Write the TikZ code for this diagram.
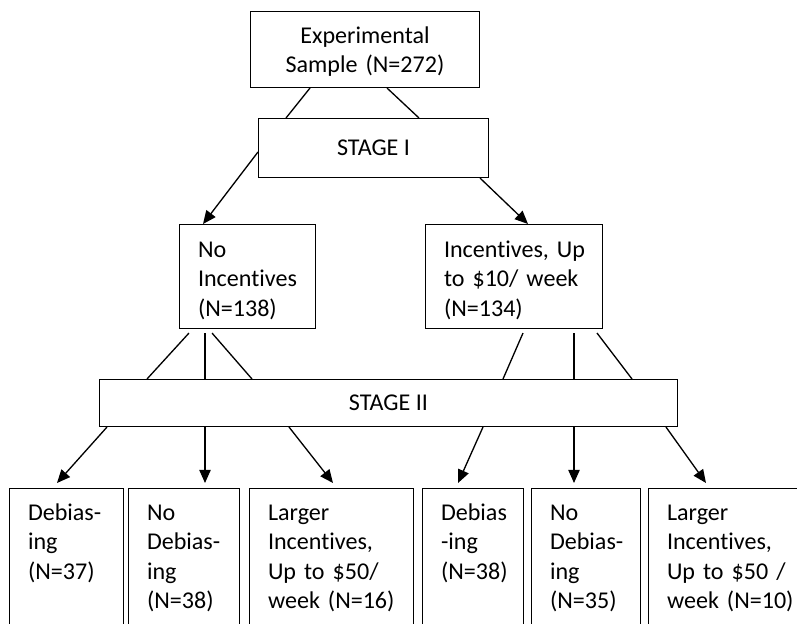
\documentclass[tikz,border=0pt]{standalone}
\usepackage{fontspec}
\setmainfont{Carlito}[Ligatures=NoCommon]
\usetikzlibrary{calc}
\usetikzlibrary{arrows.meta}

\tikzset{
  box/.style={draw, line width=0.6pt, anchor=north west, inner ysep=0pt, inner xsep=0.37cm,
    align=left, font=\fontsize{13.7}{16.7}\selectfont},
  stagebox/.style={draw, line width=0.6pt, anchor=north west, inner sep=0pt,
    align=center, font=\fontsize{13.7}{16.7}\selectfont},
  conn/.style={line width=0.75pt},
  arr/.style={line width=0.75pt, -{Triangle[length=7.5pt,width=6.5pt]}},
}

\begin{document}
\begin{tikzpicture}[x=0.02cm,y=-0.02cm]
    \useasboundingbox (0,0) rectangle (797,624);
    \clip (0,0) rectangle (797,624);
    %TOP
    \node[box, align=center, text width=3.84cm, text height=0.64cm, text depth=0.88cm] (top) at (250,11) {Experimental\\\mbox{Sample (N=272)}};
    \node[stagebox, minimum width=4.6cm, minimum height=1.18cm] (stage1) at (258,118) {STAGE I};
    %STAGE I GROUPS
    \node[box, text width=1.98cm, text height=0.66cm, text depth=1.42cm] (noinc) at (179,224) {No\\Incentives\\(N=138)};
    \node[box, text width=2.80cm, text height=0.66cm, text depth=1.42cm] (inc) at (425,224) {\mbox{Incentives, Up}\\\mbox{to \$10/ week}\\(N=134)};
    \node[stagebox, minimum width=11.56cm, minimum height=0.94cm] (stage2) at (99,379) {STAGE II};
    %STAGE II GROUPS
    \node[box, text width=1.54cm, text height=0.64cm, text depth=2.6cm] (deb1) at (9,488) {\mbox{Debias-}\\ing\\(N=37)};
    \node[box, text width=1.48cm, text height=0.64cm, text depth=2.6cm] (nodeb1) at (128,488) {No\\\mbox{Debias-}\\ing\\(N=38)};
    \node[box, text width=2.54cm, text height=0.64cm, text depth=2.6cm] (larger1) at (249,488) {Larger\\Incentives,\\\mbox{Up to \$50/}\\\mbox{week (N=16)}};
    \node[box, text width=1.28cm, text height=0.64cm, text depth=2.6cm] (deb2) at (422,488) {Debias\\\mbox{-ing}\\(N=38)};
    \node[box, text width=1.44cm, text height=0.64cm, text depth=2.6cm] (nodeb2) at (531,488) {No\\\mbox{Debias-}\\ing\\(N=35)};
    \node[box, text width=2.46cm, text height=0.64cm, text depth=2.6cm] (larger2) at (648,488) {Larger\\Incentives,\\\mbox{Up to \$50 /}\\\mbox{week (N=10)}};
    %LINES
    \draw[conn] ($(top.south west)+(60,0)$) -- ($(stage1.north west)+(28,0)$);
    \draw[conn] ($(top.south west)+(137,0)$) -- ($(stage1.north west)+(161,0)$);
    \draw[arr] ($(stage1.north west)+(0,34)$) -- ($(noinc.north west)+(24,0)$);
    \draw[arr] ($(stage1.south west)+(222,0)$) -- ($(inc.north west)+(103,0)$);
    \foreach \a/\b in {10/48, 26/106, 33/153}
      \draw[conn] ($(noinc.south west)+(\a,4)$) -- ($(stage2.north west)+(\b,0)$);
    \foreach \a/\b in {98/404, 149/475, 172/533}
      \draw[conn] ($(inc.south west)+(\a,4)$) -- ($(stage2.north west)+(\b,0)$);
    %ARROWS
    \draw[arr] ($(stage2.south west)+(8,0)$) -- ($(deb1.north west)+(48,-5)$);
    \draw[arr] ($(stage2.south west)+(106,0)$) -- ($(nodeb1.north west)+(77,-5)$);
    \draw[arr] ($(stage2.south west)+(190,0)$) -- ($(larger1.north west)+(84,-5)$);
    \draw[arr] ($(stage2.south west)+(384,0)$) -- ($(deb2.north west)+(36,-5)$);
    \draw[arr] ($(stage2.south west)+(475,0)$) -- ($(nodeb2.north west)+(43,-5)$);
    \draw[arr] ($(stage2.south west)+(567,0)$) -- ($(larger2.north west)+(58,-5)$);
\end{tikzpicture}
\end{document}
